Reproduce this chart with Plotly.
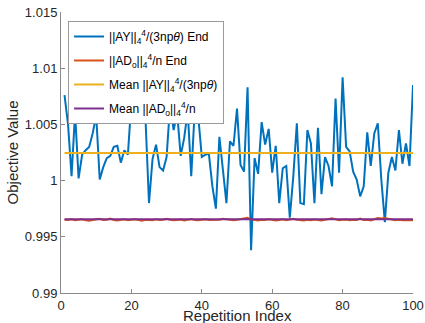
import plotly.graph_objects as go

# Repetition index 1..100
rep_index = list(range(1, 101))

# ||AY||_4^4/(3np theta) at the end of each repetition
ay_end = [
    1.0076, 1.0050, 1.0004, 1.0060, 1.0002, 1.0023, 1.0027, 1.0030, 1.0042, 1.0058,
    1.0001, 1.0012, 1.0020, 1.0022, 1.0030, 1.0031, 1.0016, 1.0027, 1.0023, 1.0070,
    1.0062, 1.0056, 1.0056, 1.0055, 0.9980, 1.0019, 1.0032, 1.0012, 1.0009, 1.0021,
    1.0068, 1.0045, 1.0060, 1.0022, 1.0038, 1.0062, 1.0004, 1.0063, 1.0057, 1.0021,
    1.0023, 1.0024, 0.9995, 0.9975, 1.0039, 1.0012, 0.9980, 1.0035, 1.0031, 1.0064,
    1.0014, 1.0008, 1.0083, 0.9938, 1.0020, 1.0006, 1.0052, 1.0032, 1.0046, 1.0007,
    1.0031, 0.9980, 1.0011, 1.0013, 0.9967, 1.0004, 1.0051, 0.9980, 0.9979, 1.0045,
    1.0033, 0.9980, 1.0047, 0.9988, 1.0021, 1.0013, 0.9995, 1.0073, 1.0007, 1.0092,
    1.0030, 1.0026, 1.0008, 1.0001, 0.9986, 0.9995, 1.0043, 1.0013, 1.0042, 1.0051,
    1.0001, 0.9963, 1.0007, 1.0021, 1.0009, 1.0045, 1.0015, 1.0033, 1.0013, 1.0085,
]

# ||AD_o||_4^4/n at the end of each repetition
ado_end = [
    0.99652, 0.99650, 0.99656, 0.99648, 0.99651, 0.99655, 0.99646, 0.99642, 0.99650, 0.99653,
    0.99660, 0.99649, 0.99652, 0.99662, 0.99650, 0.99646, 0.99651, 0.99655, 0.99648, 0.99650,
    0.99656, 0.99650, 0.99644, 0.99652, 0.99650, 0.99648, 0.99655, 0.99649, 0.99651, 0.99660,
    0.99652, 0.99647, 0.99650, 0.99654, 0.99645, 0.99652, 0.99658, 0.99650, 0.99647, 0.99652,
    0.99655, 0.99649, 0.99651, 0.99647, 0.99652, 0.99660, 0.99654, 0.99650, 0.99648, 0.99652,
    0.99656, 0.99662, 0.99670, 0.99655, 0.99650, 0.99646, 0.99651, 0.99649, 0.99655, 0.99652,
    0.99646, 0.99650, 0.99656, 0.99648, 0.99651, 0.99660, 0.99652, 0.99647, 0.99645, 0.99651,
    0.99648, 0.99654, 0.99650, 0.99646, 0.99652, 0.99658, 0.99665, 0.99655, 0.99648, 0.99651,
    0.99654, 0.99647, 0.99652, 0.99650, 0.99662, 0.99649, 0.99651, 0.99646, 0.99653, 0.99666,
    0.99662, 0.99668, 0.99660, 0.99651, 0.99648, 0.99652, 0.99647, 0.99650, 0.99651, 0.99648,
]

# Means over all repetitions
ay_mean = 1.00245
ado_mean = 0.99657

y_tick_vals = [0.99, 0.995, 1.0, 1.005, 1.01, 1.015]
y_tick_text = ["0.99", "0.995", "1", "1.005", "1.01", "1.015"]
x_tick_vals = [0, 20, 40, 60, 80, 100]

BLUE = "#0072BD"
RED = "#D95319"
YELLOW = "#EDB120"
PURPLE = "#7E2F8E"
FONT = "Liberation Sans, Arial, sans-serif"
TEXT = "#262626"
AXIS = "#8a8a8a"

series = [
    (ay_end, BLUE, "||AY||<sub>4</sub><sup>4</sup>/(3np<i>θ</i>) End"),
    (ado_end, RED, "||AD<sub>o</sub>||<sub>4</sub><sup>4</sup>/n End"),
    ([ay_mean] * len(rep_index), YELLOW, "Mean ||AY||<sub>4</sub><sup>4</sup>/(3np<i>θ</i>)"),
    ([ado_mean] * len(rep_index), PURPLE, "Mean ||AD<sub>o</sub>||<sub>4</sub><sup>4</sup>/n"),
]

fig = go.Figure()
for k, (vals, color, label) in enumerate(series):
    fig.add_trace(go.Scatter(
        x=rep_index, y=vals, mode="lines",
        line=dict(color=color, width=2),
        name=label, legendgroup=f"g{k}",
    ))

fig.update_layout(
    template="none",
    width=425, height=323,
    margin=dict(l=61, r=12, t=12, b=30),
    paper_bgcolor="white", plot_bgcolor="white",
    font=dict(family=FONT, size=12, color=TEXT),
    showlegend=True,
    legend=dict(
        x=0.02, y=0.968, xanchor="left", yanchor="top",
        bgcolor="white", bordercolor="#9a9a9a", borderwidth=1,
        font=dict(family=FONT, size=12, color="black"),
        tracegroupgap=5, itemwidth=30,
    ),
    xaxis=dict(
        range=[0, 100], tickvals=x_tick_vals,
        showgrid=False, zeroline=False,
        showline=True, linecolor=AXIS, linewidth=1,
        ticks="inside", ticklen=4, tickcolor=AXIS,
        tickfont=dict(size=13, color=TEXT),
        automargin=False,
    ),
    yaxis=dict(
        range=[0.99, 1.015], tickvals=y_tick_vals, ticktext=y_tick_text,
        showgrid=False, zeroline=False,
        showline=True, linecolor=AXIS, linewidth=1,
        ticks="inside", ticklen=4, tickcolor=AXIS,
        tickfont=dict(size=13, color=TEXT),
        title=dict(text="Objective Value", font=dict(size=15, color=TEXT), standoff=2),
        automargin=False,
    ),
    annotations=[dict(
        text="Repetition Index", xref="paper", yref="paper",
        x=0.5, y=-0.043, xanchor="center", yanchor="top",
        showarrow=False, font=dict(size=15, color=TEXT),
    )],
)

fig.write_html("out.html")
